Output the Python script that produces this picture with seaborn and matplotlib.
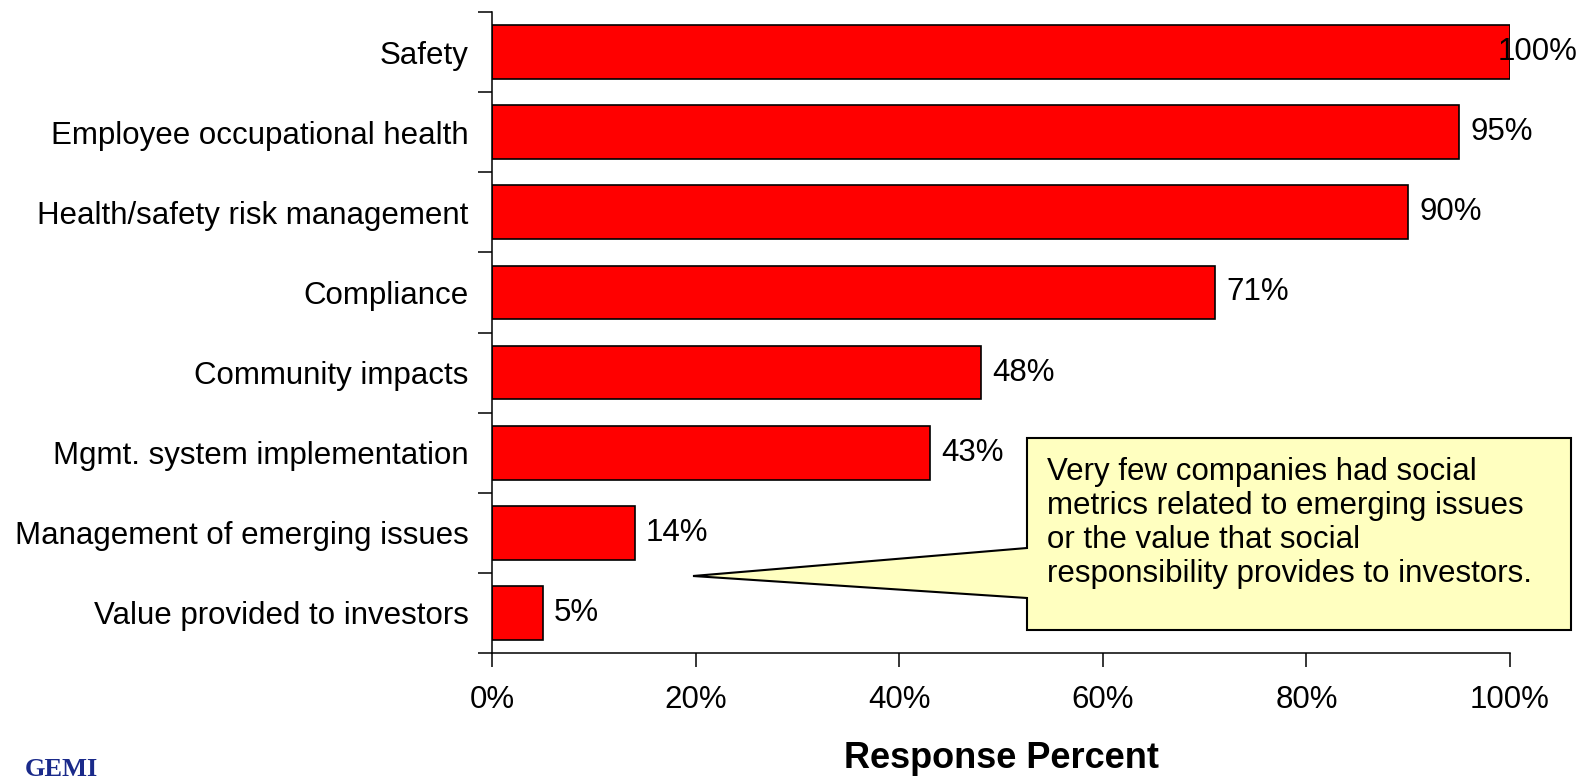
import numpy as np
import pandas as pd
import seaborn as sns
import matplotlib.pyplot as plt
from matplotlib.patches import Polygon
from matplotlib.ticker import FixedLocator, PercentFormatter

# data
categories = ["Safety", "Employee occupational health", "Health/safety risk management",
              "Compliance", "Community impacts", "Mgmt. system implementation",
              "Management of emerging issues", "Value provided to investors"]
percents = [100, 95, 90, 71, 48, 43, 14, 5]
x_ticks = [0, 20, 40, 60, 80, 100]
note = ("Very few companies had social\n"
        "metrics related to emerging issues\n"
        "or the value that social\n"
        "responsibility provides to investors.")

df = pd.DataFrame({"category": categories, "percent": percents})

sns.set_style("ticks")
plt.rcParams["font.family"] = ["Liberation Sans", "DejaVu Sans"]
plt.rcParams.update({"text.color": "black", "axes.labelcolor": "black",
                     "xtick.color": "black", "ytick.color": "black",
                     "axes.edgecolor": "black"})

W, H = 1589, 779
FS = 22.5
fig = plt.figure(figsize=(W / 100, H / 100), dpi=100)
ax = fig.add_axes([492 / W, 1 - 653 / H, (1510 - 492) / W, (653 - 12) / H])

def px(x, y):
    # pixel position -> figure fraction
    return (x / W, 1 - y / H)

sns.barplot(data=df, x="percent", y="category", orient="h", color="#ff0000",
            saturation=1, width=0.67, edgecolor="black", linewidth=1.2, ax=ax)

ax.set_xlim(0, 100)
ax.set_ylim(len(categories) - 0.5, -0.5)
ax.set_xticks(x_ticks)
ax.xaxis.set_major_formatter(PercentFormatter(decimals=0))
ax.tick_params(axis="x", length=10, width=1.1, pad=13, labelsize=FS, direction="out")
ax.tick_params(axis="y", which="major", length=0, pad=17, labelsize=FS)
ax.yaxis.set_minor_locator(FixedLocator(np.arange(len(categories) + 1) - 0.5))
ax.tick_params(axis="y", which="minor", length=10, width=1.1, direction="out")
for s in ["top", "right"]:
    ax.spines[s].set_visible(False)
for s in ["left", "bottom"]:
    ax.spines[s].set_linewidth(1.1)
ax.set_ylabel("")
ax.set_xlabel("")
fig.text(*px(1001, 758), "Response Percent", fontsize=26, fontweight="bold",
         ha="center", va="center")

# value labels
for i, v in enumerate(percents):
    off = -9 if v >= 100 else 8
    ax.annotate(f"{v}%", xy=(v, i), xytext=(off, 0), textcoords="offset points",
                va="center", ha="left", fontsize=FS, annotation_clip=False)

# callout
pts = [px(1027, 438), px(1571, 438), px(1571, 630), px(1027, 630),
       px(1027, 598), px(693, 576), px(1027, 548)]
fig.patches.append(Polygon(pts, closed=True, facecolor="#ffffc0", edgecolor="black",
                           linewidth=1.5, transform=fig.transFigure, zorder=5))
fig.text(*px(1047, 457), note, fontsize=FS, va="top", ha="left",
         linespacing=1.18, zorder=6)

# logo text
fig.text(*px(25, 758), "GEMI", family=["Liberation Serif", "DejaVu Serif"],
         fontweight="bold", fontsize=19, color="#1a2a8a", va="top", ha="left")

fig.savefig("out.png", dpi=100)
